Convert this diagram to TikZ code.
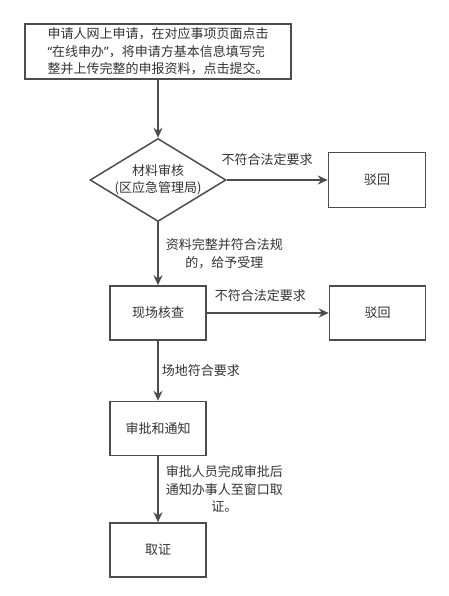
\documentclass[tikz,border=0pt]{standalone}
\usepackage{fontspec}
\newfontfamily\cjkfont{Noto Sans CJK SC}
\newfontfamily\latinfont{Noto Sans}
\usetikzlibrary{arrows.meta,positioning,shapes.geometric}
\definecolor{lineGray}{HTML}{4D4D4D}
\definecolor{textGray}{HTML}{333333}

\begin{document}
\begin{tikzpicture}[
    every node/.style={font=\cjkfont\fontsize{13}{17.5}\selectfont, text=textGray},
    stepbox/.style={rectangle, draw=lineGray, line width=1.5pt, minimum width=96pt, minimum height=54pt, fill=white},
    decision/.style={diamond, draw=lineGray, line width=1.5pt, minimum width=136pt, minimum height=83pt, inner sep=0pt},
    flow/.style={draw=lineGray, line width=1.5pt, -{Stealth[length=10pt,width=9pt]}},
    lbl/.style={align=center, inner sep=0pt}
]
\useasboundingbox (0,0) rectangle (449pt,-596pt);

% main column
\node [stepbox, minimum width=266pt, minimum height=55pt, align=left] (apply) at (158pt,-51.5pt)
    {申请人网上申请，在对应事项页面点击\\{\latinfont “}在线申办{\latinfont ”}，将申请方基本信息填写完\\整并上传完整的申报资料，点击提交。};
\node [decision, below=58pt of apply,
       label={[align=center]center:{材料审核\\(区应急管理局)}}] (check) {};
\node [stepbox, below=63pt of check] (site) {现场核查};
\node [stepbox, below=60pt of site] (approve) {审批和通知};
\node [stepbox, below=66pt of approve] (collect) {取证};

% rejections
\node [stepbox, minimum width=97pt, minimum height=55pt, right=101pt of check] (reject1) {驳回};
\node [stepbox, right=122pt of site] (reject2) {驳回};

\draw [flow] (apply) -- (check);
\draw [flow] (check) -- node[lbl, pos=0.4, yshift=20pt] {不符合法定要求} (reject1);
\draw [flow] (check) -- node[lbl, right=7pt] {资料完整并符合法规\\的，给予受理} (site);
\draw [flow] (site) -- node[lbl, pos=0.44, yshift=17pt] {不符合法定要求} (reject2);
\draw [flow] (site) -- node[lbl, right=3pt] {场地符合要求} (approve);
\draw [flow] (approve) -- node[lbl, right=7pt] {审批人员完成审批后\\通知办事人至窗口取\\证。} (collect);
\end{tikzpicture}
\end{document}
